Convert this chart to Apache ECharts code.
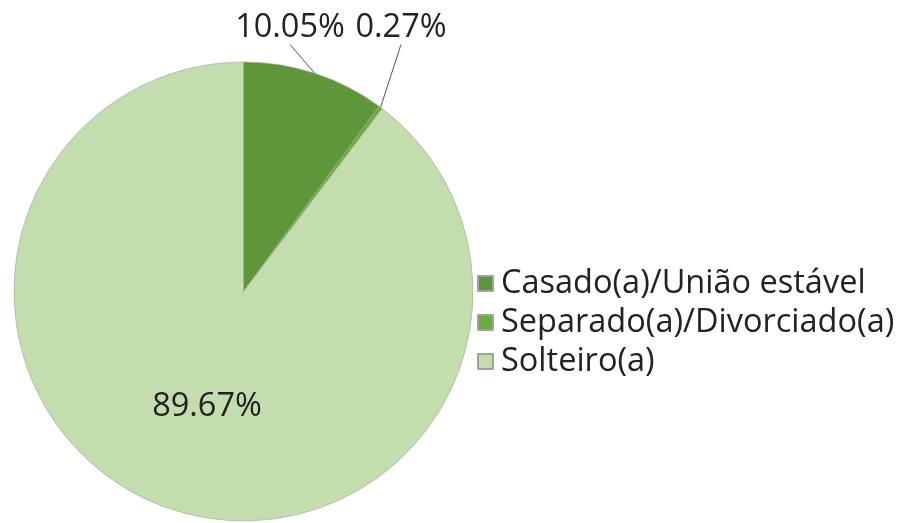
<!DOCTYPE html>
<html>
<head>
<meta charset="utf-8">
<script src="https://cdn.jsdelivr.net/npm/echarts@6/dist/echarts.min.js"></script>
<style>
html,body{margin:0;padding:0;background:#fff;}
#chart{width:905px;height:523px;}
</style>
</head>
<body>
<div id="chart"></div>
<script>
var categories = ['Casado(a)/União estável', 'Separado(a)/Divorciado(a)', 'Solteiro(a)'];
var values = [10.05, 0.27, 89.67];
var colors = ['#5f963a', '#6cab42', '#c3ddae'];

var FONT = '"Open Sans"';
var chart = echarts.init(document.getElementById('chart'), null, {renderer: 'canvas'});

var data = categories.map(function (c, i) {
  var item = {name: c, value: values[i], itemStyle: {color: colors[i]}};
  if (i === 2) {
    item.label = {position: 'inside'};
    item.labelLine = {show: false};
  }
  return item;
});

chart.setOption({
  animation: false,
  backgroundColor: '#ffffff',
  legend: {
    orient: 'vertical',
    left: 472,
    top: 262,
    itemWidth: 15,
    itemHeight: 15,
    itemGap: 6,
    icon: 'rect',
    selectedMode: false,
    textStyle: {fontFamily: FONT, fontSize: 32.5, lineHeight: 32, color: '#222', padding: [0,0,0,3]},
    data: categories
  },
  series: [{
    type: 'pie',
    center: [243.5, 291.5],
    radius: 229.5,
    startAngle: 90,
    clockwise: true,
    avoidLabelOverlap: false,
    itemStyle: {borderColor: '#9aa892', borderWidth: 0.6},
    label: {
      show: true,
      position: 'outside',
      fontFamily: FONT,
      fontSize: 32.5,
      color: '#222',
      formatter: function (p) { return p.value.toFixed(2) + '%'; }
    },
    labelLine: {show: true, lineStyle: {color: '#555', width: 1}, length: 10, length2: 0},
    labelLayout: function (p) {
      if (p.dataIndex === 0) return {x: 290, y: 28, align: 'center', verticalAlign: 'middle'};
      if (p.dataIndex === 1) return {x: 401, y: 28, align: 'center', verticalAlign: 'middle'};
      return {x: 207, y: 407, align: 'center', verticalAlign: 'middle'};
    },
    data: data
  }]
});
</script>
</body>
</html>
